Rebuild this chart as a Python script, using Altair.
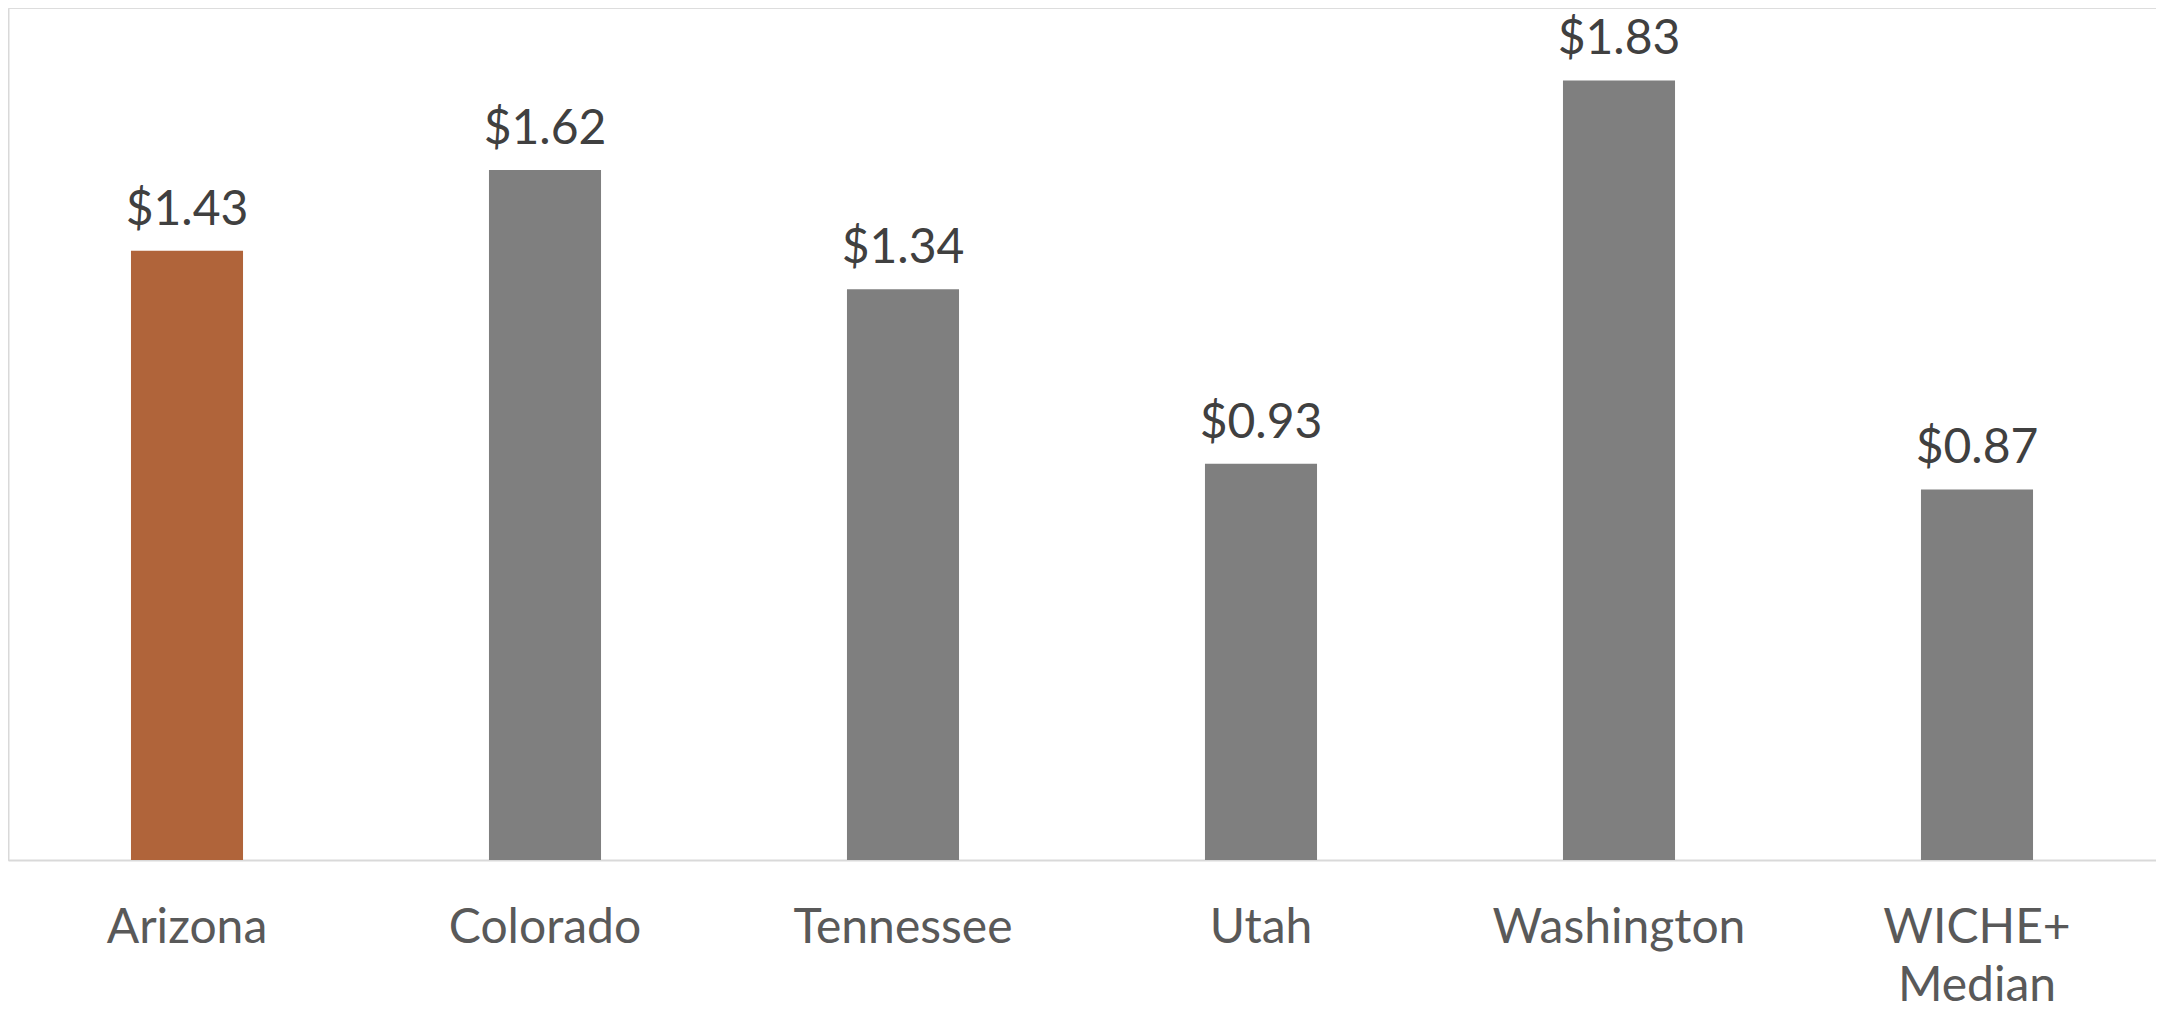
import altair as alt
import pandas as pd

states = ["Arizona", "Colorado", "Tennessee", "Utah", "Washington", "WICHE+ Median"]
values = [1.43, 1.62, 1.34, 0.93, 1.83, 0.87]
labels = ["$1.43", "$1.62", "$1.34", "$0.93", "$1.83", "$0.87"]
highlight = ["Arizona"]

df = pd.DataFrame({"state": states, "value": values, "label": labels})
df["hl"] = df["state"].isin(highlight)

FONT = "Lato"

x = alt.X(
    "state:N",
    sort=states,
    scale=alt.Scale(paddingInner=0.687, paddingOuter=0.3435),
    axis=alt.Axis(
        title=None,
        labelAngle=0,
        ticks=False,
        tickSize=0,
        labelPadding=44,
        labelBaseline="top",
        labelFont=FONT,
        labelFontSize=48,
        labelColor="#595959",
        labelLineHeight=58,
        labelLimit=0,
        labelExpr="datum.label == 'WICHE+ Median' ? ['WICHE+', 'Median'] : datum.label",
        domainColor="#D9D9D9",
        domainWidth=2,
        grid=False,
    ),
)

y = alt.Y(
    "value:Q",
    scale=alt.Scale(domain=[0, 2], nice=False),
    axis=alt.Axis(
        title=None,
        labels=False,
        ticks=False,
        grid=False,
        domainColor="#D9D9D9",
        domainWidth=2,
    ),
)

bars = alt.Chart(df).mark_bar().encode(
    x=x,
    y=y,
    color=alt.condition("datum.hl", alt.value("#B0643A"), alt.value("#7F7F7F")),
)

text = alt.Chart(df).mark_text(
    baseline="alphabetic",
    dy=-26,
    font=FONT,
    fontSize=48,
    color="#404040",
).encode(x=alt.X("state:N", sort=states), y="value:Q", text="label:N")

chart = (
    alt.layer(bars, text)
    .properties(width=2148, height=852, padding=0)
    .configure_view(stroke=None)
    .configure(background="white")
)

chart.save("out.html", embed_options={"renderer": "svg", "actions": False})
